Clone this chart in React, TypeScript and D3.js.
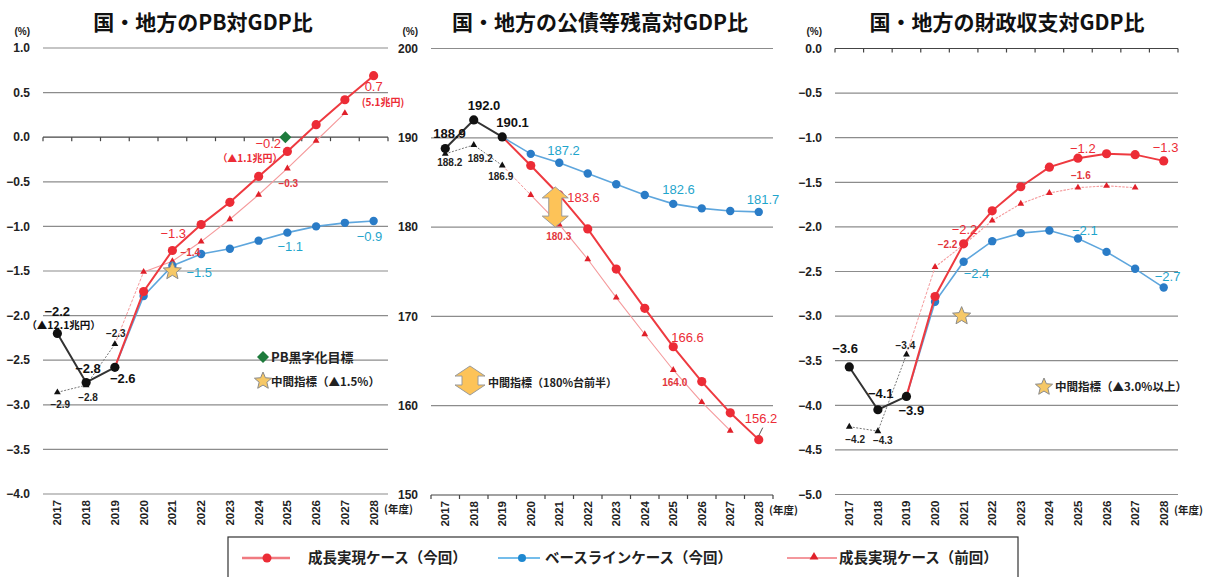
import React from 'react';
import * as d3 from 'd3';

// ---------- data ----------
const years = ['2017', '2018', '2019', '2020', '2021', '2022', '2023', '2024', '2025', '2026', '2027', '2028'];

const pbActual = [-2.2, -2.75, -2.58];
const pbGrowth = [null, null, -2.58, -1.73, -1.27, -0.98, -0.73, -0.44, -0.16, 0.14, 0.42, 0.69];
const pbBase = [null, null, -2.58, -1.78, -1.44, -1.31, -1.25, -1.16, -1.07, -1.0, -0.96, -0.94];
const pbPrev = [-2.86, -2.78, -2.32, -1.51, -1.39, -1.17, -0.92, -0.645, -0.35, -0.04, 0.27, null];
const pbTarget = -1.5;
const pbGoal = 0;

const debtActual = [188.8, 192.0, 190.1];
const debtGrowth = [null, null, 190.1, 186.9, 183.6, 179.8, 175.3, 170.9, 166.6, 162.7, 159.2, 156.2];
const debtBase = [null, null, 190.1, 188.2, 187.2, 186.0, 184.8, 183.6, 182.6, 182.1, 181.8, 181.7];
const debtPrev = [188.2, 189.2, 186.9, 183.6, 180.3, 176.4, 172.1, 168.0, 164.0, 160.4, 157.2, null];
const debtTargetRange = [180, 184.5];

const balActual = [-3.57, -4.05, -3.9];
const balGrowth = [null, null, -3.9, -2.78, -2.19, -1.82, -1.55, -1.33, -1.23, -1.18, -1.19, -1.26];
const balBase = [null, null, -3.9, -2.84, -2.39, -2.16, -2.07, -2.04, -2.13, -2.28, -2.47, -2.68];
const balPrev = [-4.24, -4.29, -3.43, -2.45, -2.2, -1.93, -1.74, -1.62, -1.56, -1.54, -1.56, null];
const balTarget = -3.0;

const titles = ['国・地方のPB対GDP比', '国・地方の公債等残高対GDP比', '国・地方の財政収支対GDP比'];
const legendLabels = ['成長実現ケース（今回）', 'ベースラインケース（今回）', '成長実現ケース（前回）'];

// ---------- styles ----------
const FN = '"Liberation Sans", Arial, sans-serif';
const FJ = '"Noto Sans CJK JP", "Noto Sans", sans-serif';
const RED = '#EC2C36';
const RED_LINE = '#EE3A40';
const RED_PREV_LINE = '#F59A9C';
const BLUE = '#2A7CC7';
const BLUE_LINE = '#5EA6DD';
const CYAN = '#1FA5CC';
const BLACK = '#111';

type Ann = { s: string; i: number; t: string; dx: number; dy: number; st: string };

const pbAnns: Ann[] = [
  { s: 'actual', i: 0, t: '−2.2', dx: -13, dy: -22, st: 'b' },
  { s: 'actual', i: 0, t: '（▲12.1兆円）', dx: -31, dy: -8, st: 'bn' },
  { s: 'actual', i: 1, t: '−2.8', dx: -11, dy: -14.5, st: 'b' },
  { s: 'actual', i: 2, t: '−2.6', dx: -5, dy: 11, st: 'b' },
  { s: 'prev', i: 2, t: '−2.3', dx: -9, dy: -11, st: 's' },
  { s: 'prev', i: 0, t: '−2.9', dx: -7, dy: 12, st: 's' },
  { s: 'prev', i: 1, t: '−2.8', dx: -8, dy: 12, st: 's' },
  { s: 'growth', i: 4, t: '−1.3', dx: -12, dy: -17, st: 'r' },
  { s: 'prev', i: 4, t: '−1.4', dx: 8, dy: -8.5, st: 'rs' },
  { s: 'target', i: 4, t: '−1.5', dx: 14, dy: 1, st: 'c' },
  { s: 'base', i: 8, t: '−1.1', dx: -10, dy: 14, st: 'c' },
  { s: 'base', i: 11, t: '−0.9', dx: -17, dy: 15, st: 'c' },
  { s: 'growth', i: 8, t: '−0.2', dx: -32, dy: -8, st: 'r' },
  { s: 'growth', i: 8, t: '（▲1.1兆円）', dx: -70, dy: 7.5, st: 'rn' },
  { s: 'prev', i: 8, t: '−0.3', dx: -9, dy: 14.6, st: 'rs' },
  { s: 'growth', i: 11, t: '0.7', dx: -9, dy: 11, st: 'r' },
  { s: 'growth', i: 11, t: '(5.1兆円)', dx: -12, dy: 27, st: 'rn' },
];

const debtAnns: Ann[] = [
  { s: 'actual', i: 0, t: '188.9', dx: -12, dy: -15.5, st: 'b' },
  { s: 'actual', i: 1, t: '192.0', dx: -6, dy: -14, st: 'b' },
  { s: 'actual', i: 2, t: '190.1', dx: -6, dy: -14, st: 'b' },
  { s: 'prev', i: 0, t: '188.2', dx: -8, dy: 9, st: 's' },
  { s: 'prev', i: 1, t: '189.2', dx: -6, dy: 14, st: 's' },
  { s: 'prev', i: 2, t: '186.9', dx: -14, dy: 11.5, st: 's' },
  { s: 'base', i: 4, t: '187.2', dx: -12, dy: -12, st: 'c' },
  { s: 'growth', i: 4, t: '183.6', dx: 8, dy: 2, st: 'r' },
  { s: 'prev', i: 4, t: '180.3', dx: -13, dy: 11.6, st: 'rs' },
  { s: 'base', i: 8, t: '182.6', dx: -11, dy: -14, st: 'c' },
  { s: 'base', i: 11, t: '181.7', dx: -12, dy: -12, st: 'c' },
  { s: 'growth', i: 8, t: '166.6', dx: -2, dy: -9, st: 'r' },
  { s: 'prev', i: 8, t: '164.0', dx: -11, dy: 13, st: 'rs' },
  { s: 'growth', i: 11, t: '156.2', dx: -14, dy: -21, st: 'r' },
];

const balAnns: Ann[] = [
  { s: 'actual', i: 0, t: '−3.6', dx: -17, dy: -18, st: 'b' },
  { s: 'actual', i: 1, t: '−4.1', dx: -10, dy: -16, st: 'b' },
  { s: 'actual', i: 2, t: '−3.9', dx: -8, dy: 13.6, st: 'b' },
  { s: 'prev', i: 2, t: '−3.4', dx: -11, dy: -8.5, st: 's' },
  { s: 'prev', i: 0, t: '−4.2', dx: -4, dy: 13, st: 's' },
  { s: 'prev', i: 1, t: '−4.3', dx: -5, dy: 9, st: 's' },
  { s: 'growth', i: 4, t: '−2.2', dx: -12, dy: -14, st: 'r' },
  { s: 'prev', i: 4, t: '−2.2', dx: -26, dy: 0, st: 'rs' },
  { s: 'growth', i: 8, t: '−1.2', dx: -8, dy: -10, st: 'r' },
  { s: 'prev', i: 8, t: '−1.6', dx: -7, dy: -12, st: 'rs' },
  { s: 'growth', i: 11, t: '−1.3', dx: -11, dy: -13, st: 'r' },
  { s: 'base', i: 8, t: '−2.1', dx: -6, dy: -8.5, st: 'c' },
  { s: 'base', i: 4, t: '−2.4', dx: 0, dy: 12, st: 'c' },
  { s: 'base', i: 11, t: '−2.7', dx: -9, dy: -11.6, st: 'c' },
];

const annStyle: Record<string, any> = {
  b: { fontSize: 13, fontWeight: 700, fill: BLACK, fontFamily: FN },
  s: { fontSize: 10, fontWeight: 700, fill: '#222', fontFamily: FN },
  r: { fontSize: 13, fontWeight: 400, fill: RED, fontFamily: FN },
  rs: { fontSize: 10, fontWeight: 700, fill: '#E2363C', fontFamily: FN },
  c: { fontSize: 13, fontWeight: 400, fill: CYAN, fontFamily: FN },
  rn: { fontSize: 10, fontWeight: 700, fill: RED, fontFamily: FJ },
  bn: { fontSize: 10.5, fontWeight: 700, fill: BLACK, fontFamily: FJ },
};

function starPath(cx: number, cy: number, R: number) {
  const r = R * 0.45;
  const pts: string[] = [];
  for (let k = 0; k < 10; k++) {
    const ang = -Math.PI / 2 + (k * Math.PI) / 5;
    const rad = k % 2 === 0 ? R : r;
    pts.push(`${cx + rad * Math.cos(ang)},${cy + rad * Math.sin(ang)}`);
  }
  return 'M' + pts.join('L') + 'Z';
}

function diamondPath(cx: number, cy: number, h: number) {
  return `M${cx},${cy - h}L${cx + h},${cy}L${cx},${cy + h}L${cx - h},${cy}Z`;
}

function dblArrow(cx: number, yt: number, yb: number, hw: number, sw: number, hh: number) {
  return `M${cx},${yt}L${cx + hw},${yt + hh}L${cx + sw},${yt + hh}L${cx + sw},${yb - hh}L${cx + hw},${yb - hh}L${cx},${yb}L${cx - hw},${yb - hh}L${cx - sw},${yb - hh}L${cx - sw},${yt + hh}L${cx - hw},${yt + hh}Z`;
}

type PanelCfg = {
  title: string;
  titleX: number;
  x0: number;
  x1: number;
  domain: [number, number];
  range: [number, number];
  step: number;
  fmt: (v: number) => string;
  axisValue: number;
  actual: number[];
  growth: (number | null)[];
  base: (number | null)[];
  prev: (number | null)[];
  anns: Ann[];
  target?: number;
  prevDash?: string;
  extra: (x: (i: number) => number, y: d3.ScaleLinear<number, number>) => React.ReactNode;
};

function Panel({ p }: { p: PanelCfg }) {
  const xb = d3.scaleBand().domain(years).range([p.x0, p.x1]);
  const bw = xb.bandwidth();
  const cx = (i: number) => (xb(years[i]) as number) + bw / 2;
  const y = d3.scaleLinear().domain(p.domain).range(p.range);
  const n = Math.round((p.domain[1] - p.domain[0]) / p.step);
  const ticks = d3.range(n + 1).map((k) => p.domain[0] + k * p.step);
  const ay = y(p.axisValue);

  const line = d3
    .line<[number, number | null]>()
    .defined((d) => d[1] != null)
    .x((d) => cx(d[0]))
    .y((d) => y(d[1] as number));
  const pts = (arr: (number | null)[], from = 0, to = arr.length - 1) =>
    arr.map((v, i) => [i, v] as [number, number | null]).filter((d) => d[0] >= from && d[0] <= to);

  const valueOf = (a: Ann) => {
    if (a.s === 'actual') return p.actual[a.i];
    if (a.s === 'growth') return p.growth[a.i] as number;
    if (a.s === 'base') return p.base[a.i] as number;
    if (a.s === 'prev') return p.prev[a.i] as number;
    return p.target as number;
  };

  const tri = d3.symbol().type(d3.symbolTriangle).size(20);

  return (
    <g>
      <text x={p.titleX} y={30} textAnchor="middle" fontFamily={FJ} fontWeight={700} fontSize={21} fill="#111">
        {p.title}
      </text>
      <text x={p.x0 - 13} y={35} textAnchor="end" fontFamily={FN} fontWeight={700} fontSize={10} fill="#222">
        (%)
      </text>
      {ticks.map((t) => (
        <g key={t}>
          <line
            x1={p.x0}
            x2={p.x1}
            y1={y(t)}
            y2={y(t)}
            stroke={Math.abs(t - p.axisValue) < 1e-9 ? '#444' : '#8c8c8c'}
            strokeWidth={1.2}
          />
          <text
            x={p.x0 - 13}
            y={y(t)}
            dy="0.35em"
            textAnchor="end"
            fontFamily={FN}
            fontWeight={700}
            fontSize={12}
            fill="#222"
          >
            {p.fmt(t)}
          </text>
        </g>
      ))}
      {d3.range(years.length + 1).map((k) => (
        <line key={k} x1={p.x0 + k * bw} x2={p.x0 + k * bw} y1={ay} y2={ay + 4} stroke="#444" strokeWidth={1.2} />
      ))}
      {years.map((yr, i) => (
        <text
          key={yr}
          transform={`translate(${cx(i)},${p.range[0] + 6}) rotate(-90)`}
          textAnchor="end"
          dy="0.35em"
          fontFamily={FN}
          fontWeight={700}
          fontSize={11.5}
          fill="#222"
        >
          {yr}
        </text>
      ))}
      <text x={p.x1 - 4} y={p.range[0] + 19} fontFamily={FJ} fontWeight={700} fontSize={10.5} fill="#222">
        (年度)
      </text>

      {/* previous-plan line */}
      <path d={line(pts(p.prev, 0, 2)) || ''} fill="none" stroke="#777" strokeWidth={1} strokeDasharray="2,1.5" />
      <path d={line(pts(p.prev, 2, 3)) || ''} fill="none" stroke={RED_PREV_LINE} strokeWidth={1} strokeDasharray="3,1.5" />
      <path d={line(pts(p.prev, 3)) || ''} fill="none" stroke={RED_PREV_LINE} strokeWidth={1.1} strokeDasharray={p.prevDash || 'none'} />
      {p.prev.map((v, i) =>
        v == null ? null : (
          <path key={i} d={tri() || ''} transform={`translate(${cx(i)},${y(v)})`} fill={i < 3 ? BLACK : '#E0202A'} />
        )
      )}

      {/* baseline */}
      <path d={line(pts(p.base)) || ''} fill="none" stroke={BLUE_LINE} strokeWidth={1.6} />
      {p.base.map((v, i) => (v == null || i < 3 ? null : <circle key={i} cx={cx(i)} cy={y(v)} r={4.2} fill={BLUE} />))}

      {/* growth */}
      <path d={line(pts(p.growth)) || ''} fill="none" stroke={RED_LINE} strokeWidth={2} />
      {p.growth.map((v, i) => (v == null || i < 3 ? null : <circle key={i} cx={cx(i)} cy={y(v)} r={4.6} fill={RED} />))}

      {/* actual */}
      <path d={line(pts(p.actual)) || ''} fill="none" stroke="#333" strokeWidth={2} />
      {p.actual.map((v, i) => (
        <circle key={i} cx={cx(i)} cy={y(v)} r={4.6} fill={BLACK} />
      ))}

      {p.extra(cx, y)}

      {p.anns.map((a, k) => (
        <text key={k} x={cx(a.i) + a.dx} y={y(valueOf(a)) + a.dy} dy="0.35em" {...annStyle[a.st]}>
          {a.t}
        </text>
      ))}
    </g>
  );
}

const fmt1 = d3.format('.1f');
const fmt0 = d3.format('d');

const panels: PanelCfg[] = [
  {
    title: titles[0],
    titleX: 203,
    x0: 43,
    x1: 388,
    domain: [-4, 1],
    range: [494, 48],
    step: 0.5,
    fmt: fmt1,
    axisValue: 0,
    actual: pbActual,
    growth: pbGrowth,
    base: pbBase,
    prev: pbPrev,
    anns: pbAnns,
    target: pbTarget,
    extra: (cx, y) => (
      <g>
        <path d={diamondPath(cx(8) - 2, y(pbGoal), 6)} fill="#1E7B3C" />
        <path d={starPath(cx(4), y(pbTarget), 9.5)} fill="#F6C867" stroke="#8a8a8a" strokeWidth={1} />
        <path d={diamondPath(263, 357, 6)} fill="#1E7B3C" />
        <text x={271} y={357} dy="0.35em" fontFamily={FJ} fontWeight={700} fontSize={13} fill="#222">
          PB黒字化目標
        </text>
        <path d={starPath(263, 381, 9)} fill="#F6C867" stroke="#8a8a8a" strokeWidth={1} />
        <text x={271} y={382} dy="0.35em" fontFamily={FJ} fontWeight={700} fontSize={11.5} fill="#222">
          中間指標（▲1.5%）
        </text>
      </g>
    ),
  },
  {
    title: titles[1],
    titleX: 600,
    x0: 431,
    x1: 773,
    domain: [150, 200],
    range: [495, 48.5],
    step: 10,
    fmt: fmt0,
    axisValue: 150,
    actual: debtActual,
    growth: debtGrowth,
    base: debtBase,
    prev: debtPrev,
    anns: debtAnns,
    extra: (cx, y) => (
      <g>
        <path
          d={dblArrow(cx(4) - 4, y(debtTargetRange[1]), y(debtTargetRange[0]), 13, 6.5, 11)}
          fill="#FDC358"
          stroke="#9a9a9a"
          strokeWidth={1}
        />
        <path d={dblArrow(470, 366, 395, 15, 8, 10)} fill="#FDC358" stroke="#9a9a9a" strokeWidth={1} />
        <text x={488} y={383} dy="0.35em" fontFamily={FJ} fontWeight={700} fontSize={11} fill="#222">
          中間指標（180%台前半）
        </text>
        <line x1={cx(11)} y1={y(debtGrowth[11] as number) - 4} x2={cx(11) + 4} y2={y(debtGrowth[11] as number) - 12} stroke="#555" strokeWidth={1} />
      </g>
    ),
  },
  {
    title: titles[2],
    titleX: 1007,
    x0: 835,
    x1: 1178,
    domain: [-5, 0],
    range: [494.5, 48.5],
    step: 0.5,
    fmt: fmt1,
    axisValue: 0,
    actual: balActual,
    growth: balGrowth,
    base: balBase,
    prev: balPrev,
    anns: balAnns,
    prevDash: '2.5,1.2',
    extra: (cx, y) => (
      <g>
        <path d={starPath(cx(4) - 2, y(balTarget), 9.5)} fill="#F6C867" stroke="#8a8a8a" strokeWidth={1} />
        <path d={starPath(1044, 387, 9)} fill="#F6C867" stroke="#8a8a8a" strokeWidth={1} />
        <text x={1055} y={387} dy="0.35em" fontFamily={FJ} fontWeight={700} fontSize={11.5} fill="#222">
          中間指標（▲3.0%以上）
        </text>
      </g>
    ),
  },
];

function Legend() {
  const ly = 558;
  const tri = d3.symbol().type(d3.symbolTriangle).size(34);
  return (
    <g>
      <rect x={228} y={537} width={790} height={60} fill="none" stroke="#333" strokeWidth={1.2} />
      <line x1={242} x2={290} y1={ly} y2={ly} stroke="#F07A80" strokeWidth={2.5} />
      <circle cx={267} cy={ly} r={4.5} fill={RED} />
      <text x={308} y={ly} dy="0.35em" fontFamily={FJ} fontWeight={700} fontSize={14.5} fill="#222">
        {legendLabels[0]}
      </text>
      <line x1={498} x2={540} y1={ly} y2={ly} stroke="#74BDEB" strokeWidth={2} />
      <circle cx={522} cy={ly} r={4} fill="#1E88D0" />
      <text x={545} y={ly} dy="0.35em" fontFamily={FJ} fontWeight={700} fontSize={14.5} fill="#222">
        {legendLabels[1]}
      </text>
      <line x1={787} x2={837} y1={ly} y2={ly} stroke="#E8303A" strokeWidth={1} />
      <path d={tri() || ''} transform={`translate(814,${ly - 1})`} fill="#E0202A" />
      <text x={839} y={ly} dy="0.35em" fontFamily={FJ} fontWeight={700} fontSize={14.5} fill="#222">
        {legendLabels[2]}
      </text>
    </g>
  );
}

export default function App() {
  return (
    <svg
      width={1211}
      height={577}
      style={{ position: 'absolute', left: 0, top: 0, background: '#fff' }}
      xmlns="http://www.w3.org/2000/svg"
    >
      <rect x={0} y={0} width={1211} height={577} fill="#fff" />
      {panels.map((p, k) => (
        <Panel key={k} p={p} />
      ))}
      <Legend />
    </svg>
  );
}
